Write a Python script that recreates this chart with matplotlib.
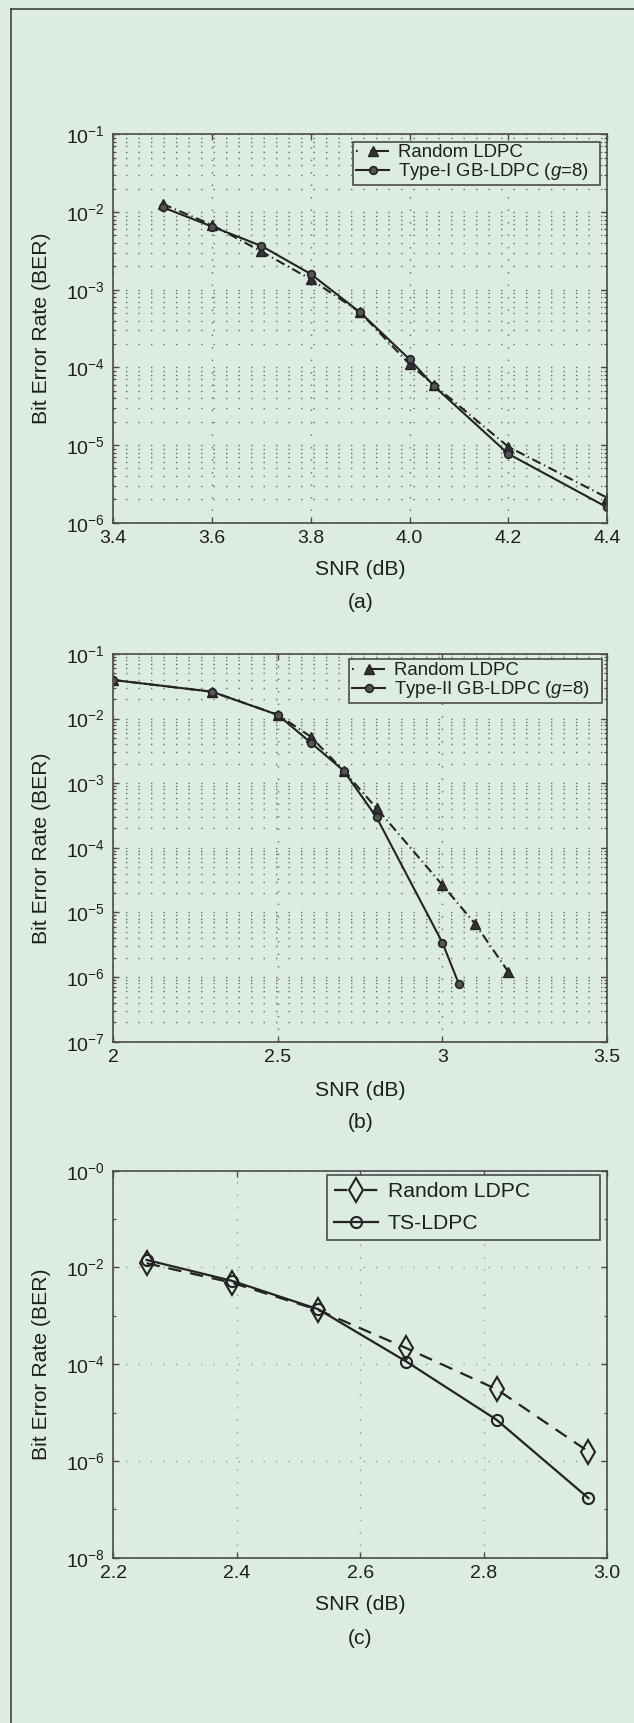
import numpy as np
import matplotlib
matplotlib.use('Agg')
import matplotlib.pyplot as plt
from matplotlib.lines import Line2D
from matplotlib.ticker import FixedLocator, FixedFormatter, LogLocator, NullFormatter

plt.rcParams['font.family'] = ['Liberation Sans', 'DejaVu Sans']
plt.rcParams['mathtext.fontset'] = 'custom'
plt.rcParams['mathtext.rm'] = 'Liberation Sans'
plt.rcParams['mathtext.it'] = 'Liberation Sans:italic'
plt.rcParams['mathtext.default'] = 'regular'

# ---------------- data ----------------
# panel (a)
a_snr = [3.5, 3.6, 3.7, 3.8, 3.9, 4.0, 4.05, 4.2, 4.4]
a_ber_random = [1.27e-2, 6.8e-3, 3.1e-3, 1.36e-3, 5.1e-4, 1.1e-4, 5.9e-5, 9.5e-6, 2.1e-6]
a_ber_gb = [1.15e-2, 6.5e-3, 3.65e-3, 1.59e-3, 5.1e-4, 1.27e-4, 5.7e-5, 7.7e-6, 1.58e-6]
a_xticks = [3.4, 3.6, 3.8, 4.0, 4.2, 4.4]
a_xlabels = ['3.4', '3.6', '3.8', '4.0', '4.2', '4.4']
a_yticks = [1e-6, 1e-5, 1e-4, 1e-3, 1e-2, 1e-1]
a_ylabels = [r'$10^{-6}$', r'$10^{-5}$', r'$10^{-4}$', r'$10^{-3}$', r'$10^{-2}$', r'$10^{-1}$']
a_legend = ['Random LDPC', r'Type-I GB-LDPC ($\mathit{g}$=8)']

# panel (b)
b_snr_random = [2.0, 2.3, 2.5, 2.6, 2.7, 2.8, 3.0, 3.1, 3.2]
b_ber_random = [3.96e-2, 2.6e-2, 1.15e-2, 5.25e-3, 1.55e-3, 4.1e-4, 2.66e-5, 6.6e-6, 1.21e-6]
b_snr_gb = [2.0, 2.3, 2.5, 2.6, 2.7, 2.8, 3.0, 3.05]
b_ber_gb = [3.96e-2, 2.61e-2, 1.14e-2, 4.25e-3, 1.56e-3, 2.96e-4, 3.4e-6, 7.8e-7]
b_xticks = [2.0, 2.5, 3.0, 3.5]
b_xlabels = ['2', '2.5', '3', '3.5']
b_yticks = [1e-7, 1e-6, 1e-5, 1e-4, 1e-3, 1e-2, 1e-1]
b_ylabels = [r'$10^{-7}$', r'$10^{-6}$', r'$10^{-5}$', r'$10^{-4}$', r'$10^{-3}$', r'$10^{-2}$', r'$10^{-1}$']
b_legend = ['Random LDPC', r'Type-II GB-LDPC ($\mathit{g}$=8)']

# panel (c)
c_snr = [2.254, 2.392, 2.532, 2.675, 2.821, 2.970]
c_ber_random = [1.22e-2, 4.85e-3, 1.32e-3, 2.14e-4, 3.04e-5, 1.56e-6]
c_ber_ts = [1.43e-2, 5.3e-3, 1.37e-3, 1.13e-4, 7.1e-6, 1.7e-7]
c_xticks = [2.2, 2.4, 2.6, 2.8, 3.0]
c_xlabels = ['2.2', '2.4', '2.6', '2.8', '3.0']
c_yticks = [1e-8, 1e-6, 1e-4, 1e-2, 1e0]
c_ylabels = [r'$10^{-8}$', r'$10^{-6}$', r'$10^{-4}$', r'$10^{-2}$', r'$10^{-0}$']
c_yminor = [1e-7, 1e-5, 1e-3, 1e-1]
c_legend = ['Random LDPC', 'TS-LDPC']

xlabel = 'SNR (dB)'
ylabel = 'Bit Error Rate (BER)'
captions = ['(a)', '(b)', '(c)']

# ---------------- style ----------------
BG = '#dcece1'
INK = '#232323'
W, H = 634, 1723
fig = plt.figure(figsize=(W / 100, H / 100), dpi=100, facecolor=BG)

def fx(px):
    return px / W

def fy(py):
    return 1 - py / H

left, right = 113.3, 607.0
panels = [(134.3, 522.7), (654.0, 1041.7), (1170.7, 1557.7)]

axes = []
for top, bot in panels:
    ax = fig.add_axes([fx(left), fy(bot), fx(right - left), (bot - top) / H])
    ax.set_facecolor(BG)
    ax.set_yscale('log')
    for s in ax.spines.values():
        s.set_color('#4a4a4a')
        s.set_linewidth(1.2)
    ax.tick_params(which='both', direction='in', top=True, right=True,
                   colors='#4a4a4a', labelcolor='#1e1e1e', labelsize=14)
    ax.tick_params(which='major', length=4, width=1)
    ax.tick_params(which='minor', length=2.5, width=0.8)
    ax.tick_params(axis='x', pad=5)
    ax.tick_params(axis='y', pad=6)
    ax.set_axisbelow(True)
    axes.append(ax)

dot = (0, (1.0, 8.0))

def setup_ab(ax, xticks, xlabels, yticks, ylabels, xlim, ylim):
    ax.set_xlim(*xlim)
    ax.set_ylim(*ylim)
    ax.xaxis.set_major_locator(FixedLocator(xticks))
    ax.xaxis.set_major_formatter(FixedFormatter(xlabels))
    ax.yaxis.set_major_locator(FixedLocator(yticks))
    ax.yaxis.set_major_formatter(FixedFormatter(ylabels))
    ax.yaxis.set_minor_locator(LogLocator(base=10, subs=np.arange(2, 10), numticks=20))
    ax.yaxis.set_minor_formatter(NullFormatter())
    ax.grid(True, which='major', axis='both', color='#6a6a6a', linestyle=dot, linewidth=1.0)
    ax.grid(True, which='minor', axis='y', color='#6a6a6a', linestyle=dot, linewidth=1.0)

dashdot = (0, (4.5, 1.8, 0.6, 1.8))

# panel (a)
ax = axes[0]
setup_ab(ax, a_xticks, a_xlabels, a_yticks, a_ylabels, (3.4, 4.4), (1e-6, 1e-1))
ax.plot(a_snr, a_ber_random, color=INK, lw=1.5, linestyle=dashdot,
        marker='^', ms=6.5, mfc='#333333', mec=INK, mew=1.0, label=a_legend[0])
ax.plot(a_snr, a_ber_gb, color=INK, lw=1.5, linestyle='-',
        marker='o', ms=5.5, mfc='#555555', mec=INK, mew=1.2, label=a_legend[1])

# panel (b)
ax = axes[1]
setup_ab(ax, b_xticks, b_xlabels, b_yticks, b_ylabels, (2.0, 3.5), (1e-7, 1e-1))
ax.plot(b_snr_random, b_ber_random, color=INK, lw=1.5, linestyle=dashdot,
        marker='^', ms=6.5, mfc='#333333', mec=INK, mew=1.0, label=b_legend[0])
ax.plot(b_snr_gb, b_ber_gb, color=INK, lw=1.5, linestyle='-',
        marker='o', ms=5.5, mfc='#555555', mec=INK, mew=1.2, label=b_legend[1])

# panel (c)
ax = axes[2]
ax.set_xlim(2.2, 3.0)
ax.set_ylim(1e-8, 1e0)
ax.xaxis.set_major_locator(FixedLocator(c_xticks))
ax.xaxis.set_major_formatter(FixedFormatter(c_xlabels))
ax.yaxis.set_major_locator(FixedLocator(c_yticks))
ax.yaxis.set_major_formatter(FixedFormatter(c_ylabels))
ax.yaxis.set_minor_locator(FixedLocator(c_yminor))
ax.yaxis.set_minor_formatter(NullFormatter())
ax.grid(True, which='major', axis='both', color='#9a9a9a', linestyle=dot, linewidth=1.0)
ax.plot(c_snr, c_ber_random, color=INK, lw=1.6, linestyle=(0, (6, 4)),
        marker='d', ms=12, mfc='none', mec=INK, mew=1.5, label=c_legend[0])
ax.plot(c_snr, c_ber_ts, color=INK, lw=1.6, linestyle='-',
        marker='o', ms=8, mfc='none', mec=INK, mew=1.5, label=c_legend[1])

# legends (box placement in axes fraction)
leg_specs = [
    (axes[0], 0.4855, 0.981, 0.5003, 13.4, 0.0, 0.15, 1.8, (0, (0.8, 6.0, 12, 2))),
    (axes[1], 0.4775, 0.9863, 0.5118, 13.4, 0.0, 0.15, 1.8, (0, (0.8, 6.0, 12, 2))),
    (axes[2], 0.4322, 0.9889, 0.5546, 15.2, 0.6, 0.35, 2.1, (0, (6.0, 7.5))),
]
for ax, x0, ytop, w, fs, ls, bp, hl, hstyle in leg_specs:
    leg = ax.legend(loc='upper left', bbox_to_anchor=(x0, ytop - 0.3, w, 0.3),
                    mode='expand', fontsize=fs, frameon=True, fancybox=False,
                    edgecolor='#4a4a4a', facecolor=BG, framealpha=1.0,
                    borderpad=bp, labelspacing=ls, handlelength=hl,
                    handletextpad=0.45, borderaxespad=0.0, numpoints=1)
    leg.get_frame().set_linewidth(1.2)
    leg.get_lines()[0].set_linestyle(hstyle)
    for t in leg.get_texts():
        t.set_color('#1e1e1e')

# axis labels and captions
xlab_y = [570, 1090, 1605]
cap_y = [603, 1122, 1638]
for i, (top, bot) in enumerate(panels):
    fig.text(fx((left + right) / 2), fy(xlab_y[i]), xlabel, ha='center', va='center',
             fontsize=15.2, color='#1e1e1e')
    fig.text(fx((left + right) / 2), fy(cap_y[i]), captions[i], ha='center', va='center',
             fontsize=15.2, color='#1e1e1e')
    fig.text(fx(42), fy((top + bot) / 2), ylabel, ha='center', va='center',
             rotation=90, fontsize=15.2, color='#1e1e1e')

# outer frame (top and left edges)
fig.add_artist(Line2D([fx(11.3), fx(11.3)], [0, fy(9.3)], color='#333333', lw=1.1))
fig.add_artist(Line2D([fx(11.3), 1.0], [fy(9.3), fy(9.3)], color='#333333', lw=1.1))

fig.savefig('out.png', dpi=100, facecolor=BG)
